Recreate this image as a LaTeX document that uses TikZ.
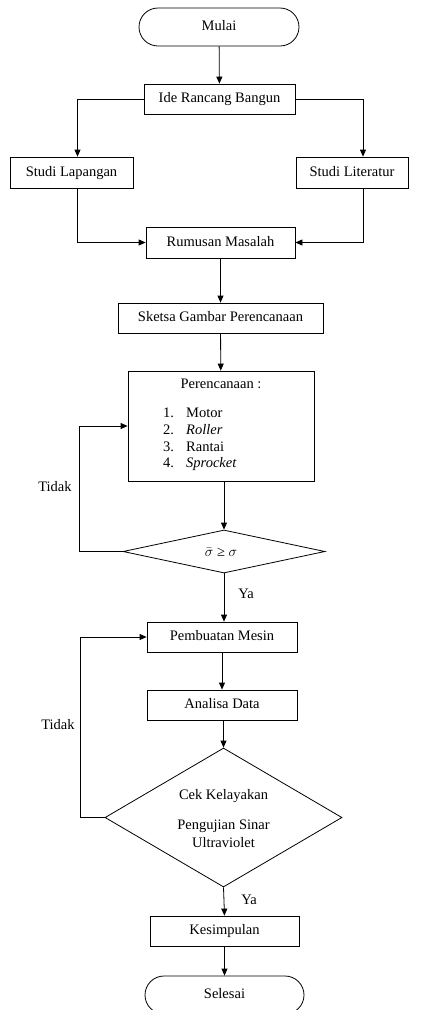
\documentclass[tikz,border=0pt]{standalone}
\usepackage{fontspec}
\setmainfont{Liberation Serif}
\usetikzlibrary{arrows.meta,shapes.geometric}

\tikzset{
  base/.style={draw, line width=0.8pt, inner sep=0pt, text height=9.5pt, text depth=2.5pt,
    font=\fontsize{14.5}{17}\selectfont},
  procbox/.style={base, rectangle},
  terminal/.style={base, rectangle, rounded corners=19pt},
  decision/.style={draw, line width=0.8pt, diamond, inner sep=0pt},
  plain/.style={inner sep=0pt, font=\fontsize{14.5}{17}\selectfont},
  arr/.style={line width=0.8pt, -{Triangle[length=7pt,width=6pt]}},
  ln/.style={line width=0.8pt}
}

\begin{document}
\begin{tikzpicture}[x=1pt, y=-1pt]
  \useasboundingbox (0,0) rectangle (426,1010);
  \begin{scope}
  \clip (0,0) rectangle (426,1010);

  % main column
  \node[terminal, minimum width=160pt, minimum height=38pt] (mulai) at (219,27) {Mulai};
  \node[procbox, minimum width=151pt, minimum height=30pt] (ide) at (219.5,99) {Ide Rancang Bangun};
  \node[procbox, minimum width=123pt, minimum height=31pt] (lap) at (71.5,172.5) {Studi Lapangan};
  \node[procbox, minimum width=112pt, minimum height=31pt] (lit) at (352,172.5) {Studi Literatur};
  \node[procbox, minimum width=149pt, minimum height=31pt] (rum) at (220.5,242.5) {Rumusan Masalah};
  \node[procbox, minimum width=205pt, minimum height=30pt] (sketsa) at (220.5,318) {Sketsa Gambar Perencanaan};

  % planning block
  \node[procbox, minimum width=186pt, minimum height=110pt, text height=0pt, text depth=0pt] (plan) at (221,426) {};
  \node[plain] (planhead) at (221,384) {Perencanaan :};
  \node[plain, anchor=base west] (n1) at (163,417) {1.};
  \node[plain, anchor=base west] (n2) at (163,434) {2.};
  \node[plain, anchor=base west] (n3) at (163,451) {3.};
  \node[plain, anchor=base west] (n4) at (163,467) {4.};
  \node[plain, anchor=base west] (i1) at (186,417) {Motor};
  \node[plain, anchor=base west] (i2) at (186,434) {\textit{Roller}};
  \node[plain, anchor=base west] (i3) at (186,451) {Rantai};
  \node[plain, anchor=base west] (i4) at (186,467) {\textit{Sprocket}};

  % stress check
  \node[decision, minimum width=202pt, minimum height=43pt] (d1) at (224,551.5) {};
  \node[plain] (d1txt) at (221,552) {$\bar{\sigma}$ ≥ $\sigma$};

  \node[procbox, minimum width=150pt, minimum height=30pt] (pemb) at (222,637) {Pembuatan Mesin};
  \node[procbox, minimum width=150pt, minimum height=30pt] (anal) at (222,705) {Analisa Data};

  % feasibility check
  \node[decision, minimum width=237pt, minimum height=139pt] (d2) at (223.5,817.5) {};
  \node[plain] (d2a) at (223.5,796) {Cek Kelayakan};
  \node[plain] (d2b) at (223.5,826) {Pengujian Sinar};
  \node[plain] (d2c) at (223.5,843) {Ultraviolet};

  \node[procbox, minimum width=149pt, minimum height=30pt] (kes) at (224.5,931) {Kesimpulan};
  \node[terminal, minimum width=159pt, minimum height=38pt] (sel) at (224.5,995) {Selesai};

  % labels
  \node[plain] (tidak1) at (55,487) {Tidak};
  \node[plain] (tidak2) at (58,725) {Tidak};
  \node[plain] (ya1) at (246,594) {Ya};
  \node[plain] (ya2) at (249,900) {Ya};

  % loop corners
  \coordinate (c1) at (79,551.5);
  \coordinate (c2) at (80,817.5);

  % connectors
  \draw[arr] (mulai) -- (ide);
  \draw[arr] (ide.west) -| ([xshift=6pt]lap.north);
  \draw[arr] (ide.east) -| ([xshift=11pt]lit.north);
  \draw[arr] ([xshift=6pt]lap.south) |- (rum.west);
  \draw[arr] ([xshift=11pt]lit.south) |- (rum.east);
  \draw[arr] (rum) -- (sketsa);
  \draw[arr] (sketsa) -- (plan);
  \draw[arr] (d1.north |- plan.south) -- (d1.north);
  \draw[ln] (d1.west) -- (c1);
  \draw[arr] (c1) |- (plan.west);
  \draw[arr] (d1.south) -- (d1.south |- pemb.north);
  \draw[arr] (pemb) -- (anal);
  \draw[arr] (d2.north |- anal.south) -- (d2.north);
  \draw[ln] (d2.west) -- (c2);
  \draw[arr] (c2) |- (pemb.west);
  \draw[arr] (d2.south) -- (kes.north);
  \draw[arr] (kes) -- (sel);
  \end{scope}
\end{tikzpicture}
\end{document}
